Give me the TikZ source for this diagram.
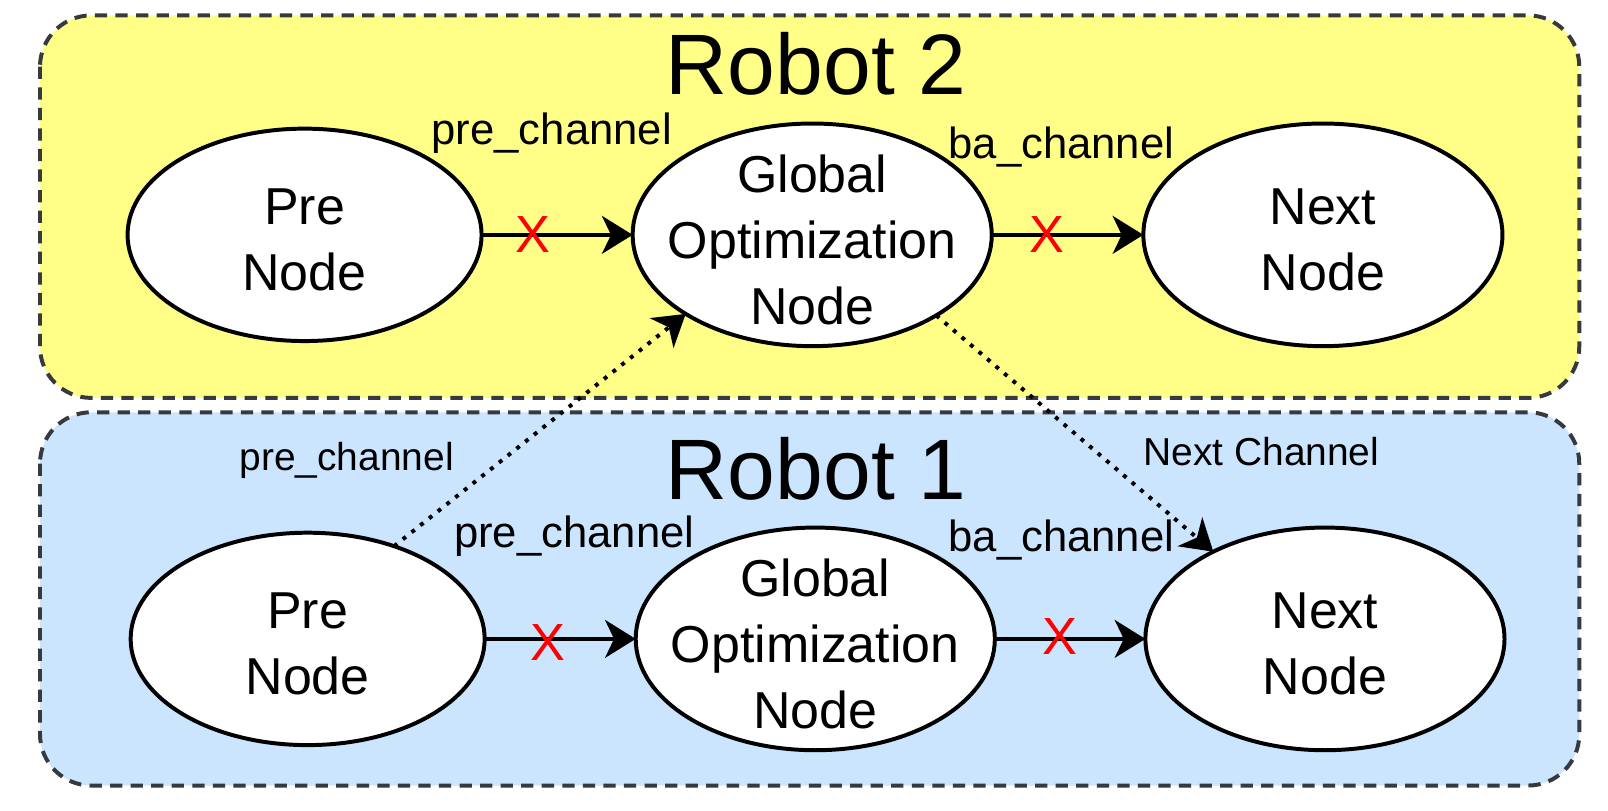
\documentclass[tikz,border=0pt]{standalone}
\usepackage{fontspec}
\setmainfont{Liberation Sans}
\usetikzlibrary{arrows.meta,shapes.geometric}
\definecolor{robotyellow}{HTML}{FFFF88}
\definecolor{robotblue}{HTML}{CCE5FF}
\definecolor{boxline}{HTML}{36393D}
\tikzset{
  robotbox/.style={draw=boxline, line width=1.1pt, dash pattern=on 3.4pt off 2.3pt, rounded corners=0.5cm},
  proc/.style={ellipse, draw, line width=1.1pt, fill=white, inner sep=0pt, outer sep=0pt,
    minimum width=3.5cm, minimum height=2.17cm,
    label={[align=center, yshift=-1.3pt, font=\fontsize{14.4}{18.3}\selectfont]center:#1}},
  chan/.style={font=\fontsize{12.1}{14.5}\selectfont, inner sep=0pt},
  smallchan/.style={font=\fontsize{10.8}{13}\selectfont, inner sep=0pt},
  cut/.style={text=red, font=\fontsize{14.5}{17}\selectfont, inner sep=0pt},
  title/.style={font=\fontsize{23.8}{28}\selectfont, inner sep=0pt},
  flow/.style={line width=1.1pt, -{Stealth[length=8.5pt, width=10.5pt, inset=2.5pt]}}
}
\begin{document}
\begin{tikzpicture}[x=0.01cm, y=-0.01cm]
  \useasboundingbox (0,0) rectangle (1568,790);
  % robot areas
  \draw[robotbox, fill=robotyellow] (39,15) rectangle (1540,388);
  \draw[robotbox, fill=robotblue] (39,402) rectangle (1540,766);
  \node[title] (r2) at (796,62) {Robot 2};
  \node[title] (r1) at (796,457) {Robot 1};
  % robot 2
  \draw
    (297,229) node[proc={Pre\\Node}, minimum width=3.45cm, minimum height=2.07cm] (pre2){}
    (792,229) node[proc={Global\\Optimization\\Node}] (glob2){}
    (1290,229) node[proc={Next\\Node}] (next2){};
  % robot 1
  \draw
    (300,623) node[proc={Pre\\Node}, minimum width=3.45cm, minimum height=2.07cm] (pre1){}
    (795,623) node[proc={Global\\Optimization\\Node}] (glob1){}
    (1292,623) node[proc={Next\\Node}] (next1){};
  \begin{scope}[flow]
    \draw (pre2) to (glob2);
    \draw (glob2) to (next2);
    \draw (pre1) to (glob1);
    \draw (glob1) to (next1);
    \draw[dotted] (pre1.47) to (glob2.212);
    \draw[dotted] (glob2.327) to (next1.142);
  \end{scope}
  % channel labels
  \node[chan] (pc2) at (538,130) {pre\_channel};
  \node[chan] (bc2) at (1035,143) {ba\_channel};
  \node[chan] (pc1) at (560,523) {pre\_channel};
  \node[chan] (bc1) at (1035,527) {ba\_channel};
  \node[smallchan] (pcx) at (338,449) {pre\_channel};
  \node[smallchan] (ncx) at (1230,440) {Next Channel};
  % broken links
  \node[cut] (x1) at (520,229) {X};
  \node[cut] (x2) at (1021,229) {X};
  \node[cut] (x3) at (534,627) {X};
  \node[cut] (x4) at (1034,621) {X};
\end{tikzpicture}
\end{document}
